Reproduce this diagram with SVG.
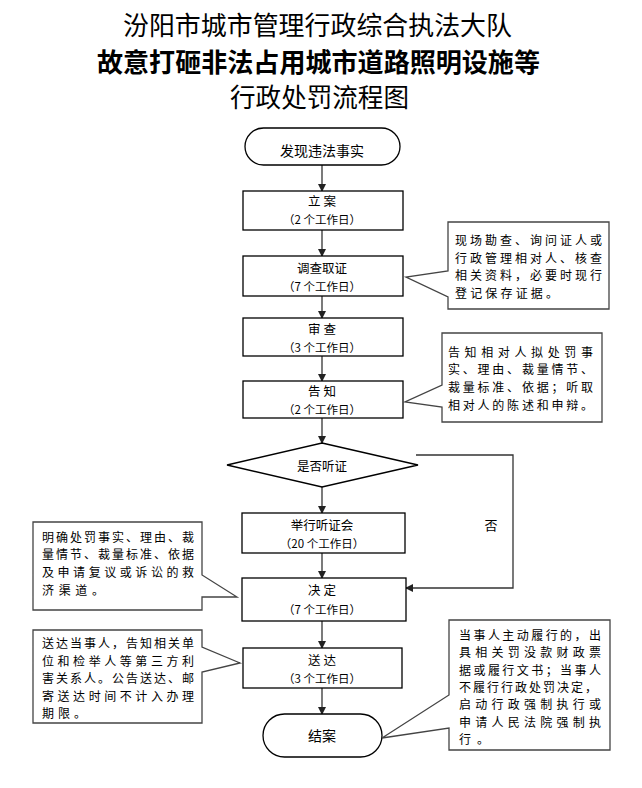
<svg xmlns="http://www.w3.org/2000/svg" width="642" height="788" viewBox="0 0 642 788">
<defs>
<marker id="ah" markerWidth="8" markerHeight="8" refX="7" refY="4" orient="auto" markerUnits="userSpaceOnUse">
<path d="M0,0 L8,4 L0,8 Z" fill="#222"/>
</marker>
<style>
.t{font-family:"Noto Sans CJK SC","Noto Sans",sans-serif;fill:#000}
.bx{fill:#fff;stroke:#000;stroke-width:1.3}
.l1{font-size:12.5px;text-anchor:middle}
.l2{font-size:11.5px;text-anchor:middle}
.co{fill:#fff;stroke:#444;stroke-width:1.3}
.ct{font-size:12px}
.cn{fill:none;stroke:#333;stroke-width:1.3}
</style>
</defs>
<rect width="642" height="788" fill="#fff"/>
<g id="title">
<text class="t" x="123" y="35" font-size="26" textLength="389" lengthAdjust="spacingAndGlyphs">汾阳市城市管理行政综合执法大队</text>
<text class="t" x="97" y="72" font-size="26" font-weight="bold" textLength="443" lengthAdjust="spacingAndGlyphs">故意打砸非法占用城市道路照明设施等</text>
<text class="t" x="230" y="107" font-size="26" textLength="179" lengthAdjust="spacingAndGlyphs">行政处罚流程图</text>
</g>
<g id="connectors">
<line class="cn" x1="322" y1="165" x2="322" y2="191" marker-end="url(#ah)"/>
<line class="cn" x1="322" y1="230" x2="322" y2="256" marker-end="url(#ah)"/>
<line class="cn" x1="322" y1="296" x2="322" y2="318" marker-end="url(#ah)"/>
<line class="cn" x1="322" y1="356" x2="322" y2="381" marker-end="url(#ah)"/>
<line class="cn" x1="322" y1="418" x2="322" y2="443" marker-end="url(#ah)"/>
<line class="cn" x1="322" y1="487" x2="322" y2="513" marker-end="url(#ah)"/>
<line class="cn" x1="322" y1="553" x2="322" y2="578" marker-end="url(#ah)"/>
<line class="cn" x1="322" y1="621" x2="322" y2="648" marker-end="url(#ah)"/>
<line class="cn" x1="322" y1="688" x2="322" y2="714" marker-end="url(#ah)"/>
<polyline class="cn" points="416,455 513,455 513,588 406,588" marker-end="url(#ah)"/>
<text class="t" x="491" y="530" font-size="13" text-anchor="middle">否</text>
</g>
<g id="start">
<rect class="bx" x="245" y="128" width="155" height="37" rx="18.5"/>
<text class="t" x="322" y="156" font-size="14" text-anchor="middle">发现违法事实</text>
</g>
<g id="lian">
<rect class="bx" x="243" y="191" width="160" height="39"/>
<text class="t l1" x="322" y="206">立 案</text>
<text class="t l2" x="322" y="224">（2 个工作日）</text>
</g>
<g id="diaocha">
<rect class="bx" x="243" y="256" width="160" height="40"/>
<text class="t l1" x="322" y="273">调查取证</text>
<text class="t l2" x="322" y="291">（7 个工作日）</text>
</g>
<g id="shencha">
<rect class="bx" x="243" y="318" width="160" height="38"/>
<text class="t l1" x="322" y="334">审 查</text>
<text class="t l2" x="322" y="352">（3 个工作日）</text>
</g>
<g id="gaozhi">
<rect class="bx" x="243" y="381" width="160" height="37"/>
<text class="t l1" x="322" y="396">告 知</text>
<text class="t l2" x="322" y="414">（2 个工作日）</text>
</g>
<g id="tingzheng-q">
<polygon class="bx" points="322,443 418,465 322,487 227,465"/>
<text class="t l1" x="322" y="471">是否听证</text>
</g>
<g id="tingzheng">
<rect class="bx" x="242" y="513" width="163" height="40"/>
<text class="t l1" x="322" y="530">举行听证会</text>
<text class="t l2" x="322" y="548">（20 个工作日）</text>
</g>
<g id="jueding">
<rect class="bx" x="242" y="578" width="164" height="43"/>
<text class="t l1" x="322" y="595">决 定</text>
<text class="t l2" x="322" y="614">（7 个工作日）</text>
</g>
<g id="songda">
<rect class="bx" x="243" y="648" width="159" height="40"/>
<text class="t l1" x="322" y="665">送 达</text>
<text class="t l2" x="322" y="683">（3 个工作日）</text>
</g>
<g id="end">
<rect class="bx" x="263" y="714" width="119" height="43" rx="21.5"/>
<text class="t" x="322" y="741" font-size="14" text-anchor="middle">结案</text>
</g>
<g id="note1">
<path class="co" d="M448,222 H609 V309 H448 V297 L406,277 L448,271 Z"/>
<text class="t ct" x="455" y="245" textLength="147" lengthAdjust="spacing">现场勘查、询问证人或</text>
<text class="t ct" x="455" y="263" textLength="147" lengthAdjust="spacing">行政管理相对人、核查</text>
<text class="t ct" x="455" y="280" textLength="147" lengthAdjust="spacing">相关资料，必要时现行</text>
<text class="t ct" x="455" y="298" textLength="103" lengthAdjust="spacing">登记保存证据。</text>
</g>
<g id="note2">
<path class="co" d="M442,333 H602 V422 H442 V407 L405,402 L442,385 Z"/>
<text class="t ct" x="448" y="357" textLength="145" lengthAdjust="spacing">告知相对人拟处罚事</text>
<text class="t ct" x="448" y="374" textLength="145" lengthAdjust="spacing">实、理由、裁量情节、</text>
<text class="t ct" x="448" y="392" textLength="145" lengthAdjust="spacing">裁量标准、依据；听取</text>
<text class="t ct" x="448" y="410" textLength="145" lengthAdjust="spacing">相对人的陈述和申辩。</text>
</g>
<g id="note3">
<path class="co" d="M33,522 H202 V575 L237,597 L202,597 V610 H33 Z"/>
<text class="t ct" x="42" y="542" textLength="152" lengthAdjust="spacing">明确处罚事实、理由、裁</text>
<text class="t ct" x="42" y="559" textLength="152" lengthAdjust="spacing">量情节、裁量标准、依据</text>
<text class="t ct" x="42" y="577" textLength="152" lengthAdjust="spacing">及申请复议或诉讼的救</text>
<text class="t ct" x="42" y="595" textLength="62" lengthAdjust="spacing">济渠道。</text>
</g>
<g id="note4">
<path class="co" d="M33,630 H202 V647 L240,663 L202,672 V723 H33 Z"/>
<text class="t ct" x="42" y="648" textLength="152" lengthAdjust="spacing">送达当事人，告知相关单</text>
<text class="t ct" x="42" y="666" textLength="152" lengthAdjust="spacing">位和检举人等第三方利</text>
<text class="t ct" x="42" y="683" textLength="152" lengthAdjust="spacing">害关系人。公告送达、邮</text>
<text class="t ct" x="42" y="701" textLength="152" lengthAdjust="spacing">寄送达时间不计入办理</text>
<text class="t ct" x="42" y="718" textLength="44" lengthAdjust="spacing">期限。</text>
</g>
<g id="note5">
<path class="co" d="M449,620 H610 V750 H449 V728 L382,738 L449,695 Z"/>
<text class="t ct" x="459" y="640" textLength="142" lengthAdjust="spacing">当事人主动履行的，出</text>
<text class="t ct" x="459" y="657" textLength="142" lengthAdjust="spacing">具相关罚没款财政票</text>
<text class="t ct" x="459" y="675" textLength="142" lengthAdjust="spacing">据或履行文书；当事人</text>
<text class="t ct" x="459" y="692" textLength="138" lengthAdjust="spacing">不履行行政处罚决定，</text>
<text class="t ct" x="459" y="709" textLength="142" lengthAdjust="spacing">启动行政强制执行或</text>
<text class="t ct" x="459" y="727" textLength="142" lengthAdjust="spacing">申请人民法院强制执</text>
<text class="t ct" x="459" y="744" textLength="30" lengthAdjust="spacing">行。</text>
</g>
</svg>
